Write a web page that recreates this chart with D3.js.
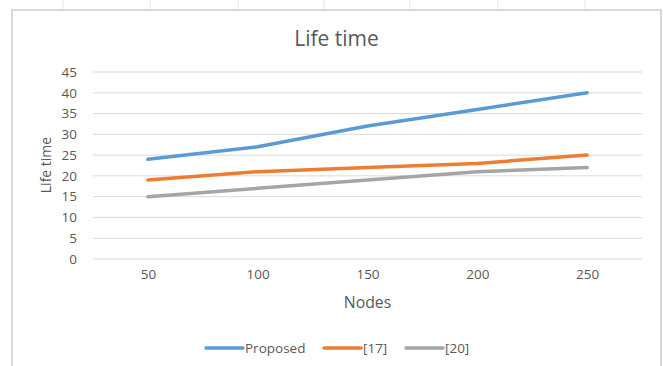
<!DOCTYPE html>
<html><head><meta charset="utf-8">
<script src="https://cdn.jsdelivr.net/npm/d3@7"></script>
<style>body{margin:0;background:#fff;} svg{display:block;}</style>
</head><body>
<svg id="chart" width="663" height="366"></svg>
<script>
const categories = ["50", "100", "150", "200", "250"];
const proposed = [24, 27, 32, 36, 40];
const ref17 = [19, 21, 22, 23, 25];
const ref20 = [15, 17, 19, 21, 22];
const yTicks = [0, 5, 10, 15, 20, 25, 30, 35, 40, 45];
const seriesNames = ["Proposed", "[17]", "[20]"];
const seriesColors = ["#5B9BD5", "#ED7D31", "#A5A5A5"];
const series = [proposed, ref17, ref20];

const svg = d3.select("#chart");
const font = "'Open Sans', sans-serif";
const textColor = "#595959";

// faint spreadsheet cell marks outside chart
const colMarks = [63, 150, 238, 324, 410, 498, 585];
svg.selectAll(".cm").data(colMarks).enter().append("line")
  .attr("x1", d => d).attr("x2", d => d).attr("y1", 0).attr("y2", 9)
  .attr("stroke", "#e3e3e3").attr("stroke-width", 1);

// chart area border
svg.append("rect").attr("x", 12).attr("y", 10).attr("width", 649).attr("height", 370)
  .attr("fill", "#fff").attr("stroke", "#d9d9d9").attr("stroke-width", 2);

const x = d3.scalePoint().domain(categories).range([93, 642]).padding(0.5);
const y = d3.scaleLinear().domain([0, 45]).range([259, 72]);

// gridlines
svg.append("g").selectAll("line").data(yTicks).enter().append("line")
  .attr("x1", 93).attr("x2", 642)
  .attr("y1", d => y(d)).attr("y2", d => y(d))
  .attr("stroke", "#d9d9d9").attr("stroke-width", 1);

// y axis labels
const yAxis = d3.axisLeft(y).tickValues(yTicks).tickSize(0).tickPadding(0);
const gy = svg.append("g").attr("transform", "translate(77,0)").call(yAxis);
gy.select(".domain").remove();
gy.selectAll("text").attr("font-family", font).attr("font-size", 13.5).attr("fill", textColor);

// x axis labels
const xAxis = d3.axisBottom(x).tickSize(0).tickPadding(0);
const gx = svg.append("g").attr("transform", "translate(0,269)").call(xAxis);
gx.select(".domain").remove();
gx.selectAll("text").attr("font-family", font).attr("font-size", 13.5).attr("fill", textColor);

// lines
const line = d3.line().x((d, i) => x(categories[i])).y(d => y(d));
series.forEach((s, k) => {
  svg.append("path").datum(s).attr("d", line)
    .attr("fill", "none").attr("stroke", seriesColors[k]).attr("stroke-width", 3.5)
    .attr("stroke-linecap", "round").attr("stroke-linejoin", "round");
});

// title
svg.append("text").attr("x", 336.5).attr("y", 46).attr("text-anchor", "middle")
  .attr("font-family", font).attr("font-size", 21).attr("fill", textColor).text("Life time");

// axis titles
svg.append("text").attr("x", 367.5).attr("y", 307.5).attr("text-anchor", "middle")
  .attr("font-family", font).attr("font-size", 15.8).attr("fill", textColor).text("Nodes");
svg.append("text").attr("transform", "translate(51,165) rotate(-90)").attr("text-anchor", "middle")
  .attr("font-family", font).attr("font-size", 14).attr("fill", textColor).text("Life time");

// legend
const legendX = [206, 324, 406];
const lg = svg.append("g");
seriesNames.forEach((n, k) => {
  lg.append("line").attr("x1", legendX[k]).attr("x2", legendX[k] + 37)
    .attr("y1", 348).attr("y2", 348)
    .attr("stroke", seriesColors[k]).attr("stroke-width", 3.5).attr("stroke-linecap", "round");
  lg.append("text").attr("x", legendX[k] + 39).attr("y", 352.5)
    .attr("font-family", font).attr("font-size", 13.5).attr("fill", textColor).text(n);
});
</script>
</body></html>
